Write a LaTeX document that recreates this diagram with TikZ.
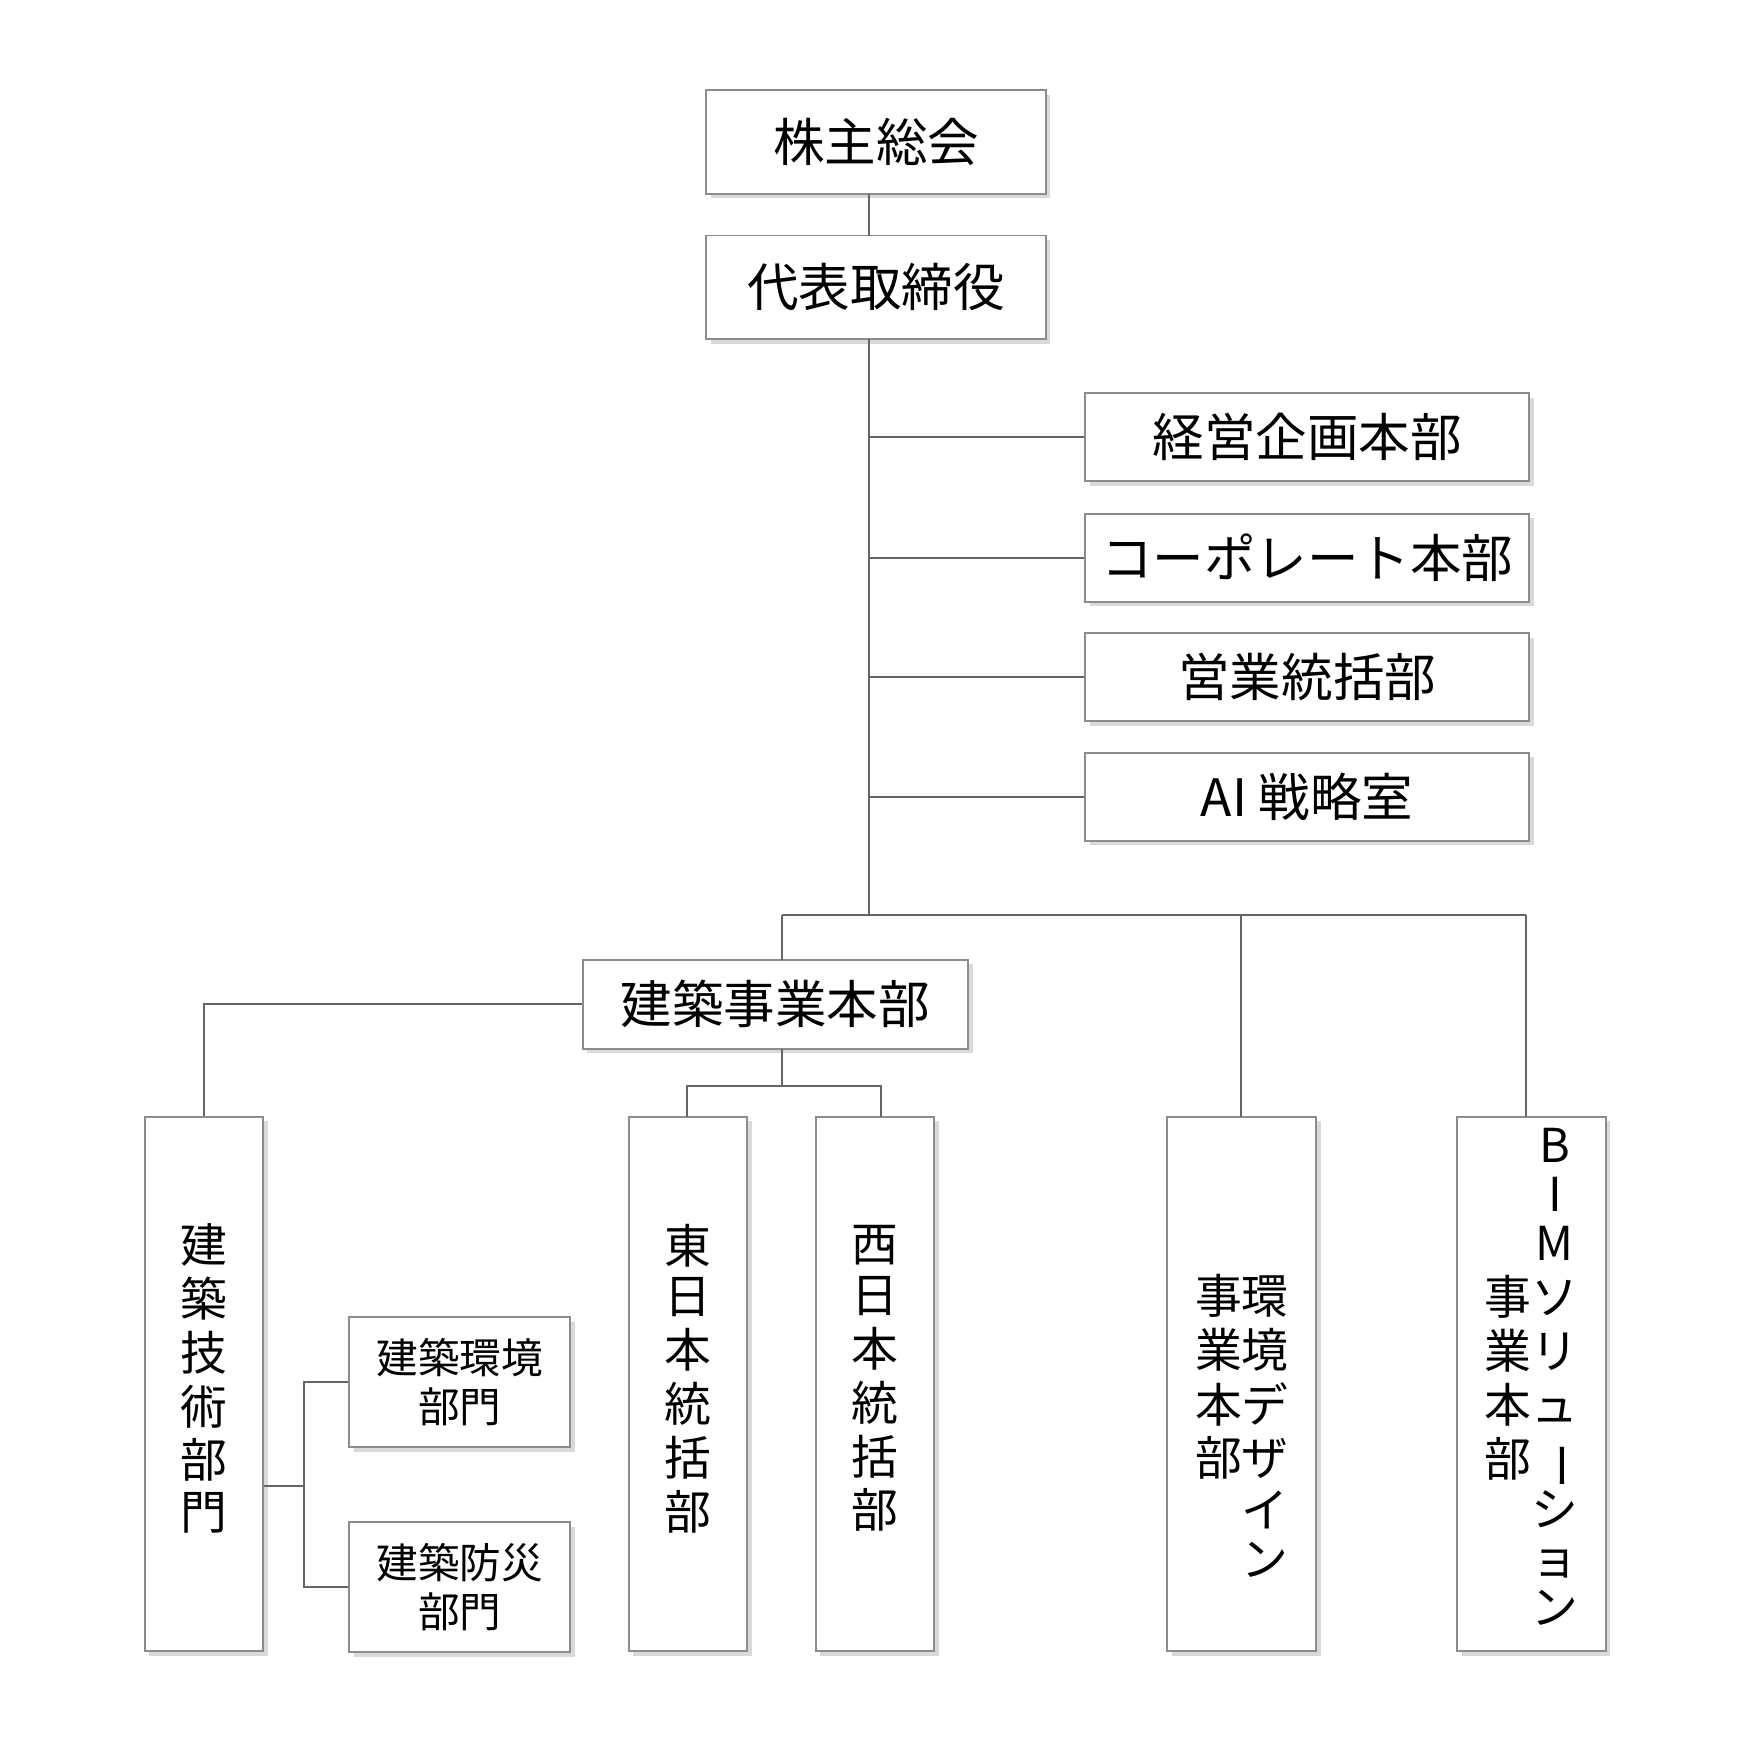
\documentclass[tikz,border=0pt]{standalone}
\usepackage{fontspec}
\setmainfont{Noto Sans CJK JP}
\usepackage{graphicx}
\usetikzlibrary{shadows}
\newcommand{\tatebar}{\rotatebox[origin=c]{-90}{ー}}
\tikzset{
  box/.style={draw=black!45, line width=.5pt, fill=white, inner sep=0pt,
    drop shadow={shadow xshift=.4mm, shadow yshift=-.4mm, fill=black!25, opacity=.6},
    font=\fontsize{13}{15}\selectfont},
  tall/.style={box, minimum height=4.74cm, font=\fontsize{11.8}{12.3}\selectfont},
  link/.style={draw=black!60, line width=.5pt}
}
\begin{document}
\begin{tikzpicture}[x=0.01cm, y=-0.01cm]
\useasboundingbox (0,0) rectangle (1560,1560);
\node[box, minimum width=3.01cm, minimum height=.92cm] (soukai) at (777.5,126) {株主総会};
\node[box, minimum width=3.01cm, minimum height=.92cm] (daihyo) at (777.5,255) {代表取締役};
\draw[link] (771,172) -- (771,209);
\coordinate (bus) at (771,812);
\draw[link] (771,301) -- (bus);
\foreach \y/\n/\t in {388/keiei/経営企画本部, 495/corp/コーポレート本部, 601/eigyo/営業統括部, 707/ai/AI 戦略室} {
  \node[box, minimum width=3.94cm, minimum height=.78cm] (\n) at (1160,\y) {\t};
  \draw[link] (771,\y) -- (\n.west);
}
\node[box, minimum width=3.42cm, minimum height=.79cm] (kenchiku) at (688,891) {建築事業本部};
\node[tall, minimum width=1.05cm] (gijutsu) at (181,1228)
  {\begin{tabular}{@{}c@{}}建\\築\\技\\術\\部\\門\end{tabular}};
\node[tall, minimum width=1.05cm] (higashi) at (610.5,1228)
  {\begin{tabular}{@{}c@{}}東\\日\\本\\統\\括\\部\end{tabular}};
\node[tall, minimum width=1.05cm] (nishi) at (776.5,1228)
  {\begin{tabular}{@{}c@{}}西\\日\\本\\統\\括\\部\end{tabular}};
\node[tall, minimum width=1.32cm] (kankyo) at (1102,1228)
  {\begin{tabular}[t]{@{}c@{}c@{}}\\ \\事&環\\業&境\\本&デ\\部&ザ\\&イ\\&ン\end{tabular}};
\node[tall, minimum width=1.32cm] (bim) at (1359,1228)
  {\begin{tabular}{@{}c@{}c@{}}&B\\&I\\&M\\事&ソ\\業&リ\\本&ュ\\部&\tatebar\\&シ\\&ョ\\&ン\end{tabular}};
\node[box, minimum width=1.96cm, minimum height=1.15cm, align=center,
  font=\fontsize{10.5}{12.5}\selectfont] (kankyobu) at (408,1226.5) {建築環境\\部門};
\node[box, minimum width=1.96cm, minimum height=1.15cm, align=center,
  font=\fontsize{10.5}{12.5}\selectfont] (bousai) at (408,1408.5) {建築防災\\部門};
% connectors
\draw[link] (694,812) -- (1354,812);
\draw[link] (694,812) -- (694,852);
\draw[link] (1101,812) -- (1101,991);
\draw[link] (1354,812) -- (1354,991);
\draw[link] (kenchiku.west) -- (181,891) -- (gijutsu.north);
\draw[link] (694,931) -- (694,964);
\draw[link] (610,991) -- (610,964) -- (782,964) -- (782,991);
\draw[link] (234,1319) -- (270,1319);
\draw[link] (kankyobu.west) -- (270,1226.5) -- (270,1408.5) -- (bousai.west);
\end{tikzpicture}
\end{document}
